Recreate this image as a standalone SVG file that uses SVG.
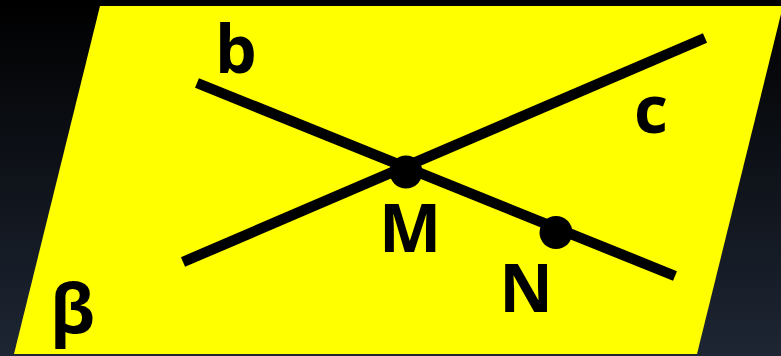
<svg xmlns="http://www.w3.org/2000/svg" width="781" height="356" viewBox="0 0 781 356">
<defs>
<linearGradient id="bg" x1="0" y1="0" x2="0" y2="1">
<stop offset="0" stop-color="#000000"/>
<stop offset="1" stop-color="#1e2634"/>
</linearGradient>
</defs>
<style>
.ln{stroke:#000;stroke-width:10.5;fill:none;stroke-linecap:butt}
.pt{fill:#000}
.lb{font-family:"Open Sans","DejaVu Sans",sans-serif;font-weight:bold;fill:#000;font-size:66px}
</style>
<rect x="0" y="0" width="781" height="356" fill="url(#bg)"/>
<g id="plane">
<polygon points="100,6 783,6 697,354 14,354" fill="#ffff00"/>
<text class="lb" x="50" y="333" style="font-size:68px">β</text>
</g>
<g id="connectors">
<line id="line-b" class="ln" x1="197" y1="83" x2="675" y2="276"/>
<line id="line-c" class="ln" x1="183" y1="262" x2="705" y2="38"/>
</g>
<g id="label-b"><text class="lb" x="215" y="73">b</text></g>
<g id="label-c"><text class="lb" x="634" y="133">c</text></g>
<g id="point-M">
<circle class="pt" cx="406" cy="172" r="16.5"/>
<text class="lb" x="410" y="252" text-anchor="middle">M</text>
</g>
<g id="point-N">
<circle class="pt" cx="556" cy="232.5" r="16.5"/>
<text class="lb" x="526" y="312" text-anchor="middle">N</text>
</g>
</svg>
